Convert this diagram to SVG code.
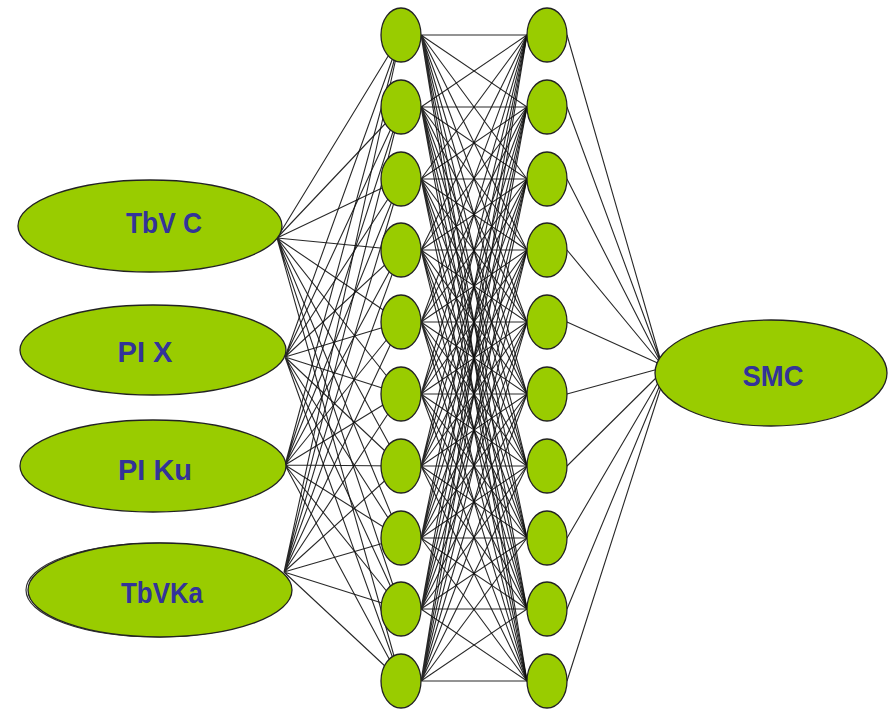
<svg xmlns="http://www.w3.org/2000/svg" width="892" height="710" viewBox="0 0 892 710">
<style>
.n{fill:#99cc00;stroke:#222;stroke-width:1.3}
.c{fill:none;stroke:#111;stroke-width:1.1;stroke-opacity:0.9}
.t{font-family:"Liberation Sans",Arial,sans-serif;font-weight:bold;font-size:30px;fill:#333399;text-anchor:middle}
</style>
<rect width="892" height="710" fill="#ffffff"/>
<g id="connectors" class="c">
<path d="M277 238L401 35M277 238L401 107M277 238L401 179M277 238L401 250M277 238L401 322M277 238L401 394M277 238L401 466M277 238L401 538M277 238L401 609M277 238L401 681"/>
<path d="M285 357L401 35M285 357L401 107M285 357L401 179M285 357L401 250M285 357L401 322M285 357L401 394M285 357L401 466M285 357L401 538M285 357L401 609M285 357L401 681"/>
<path d="M285 465L401 35M285 465L401 107M285 465L401 179M285 465L401 250M285 465L401 322M285 465L401 394M285 465L401 466M285 465L401 538M285 465L401 609M285 465L401 681"/>
<path d="M284 572L401 35M284 572L401 107M284 572L401 179M284 572L401 250M284 572L401 322M284 572L401 394M284 572L401 466M284 572L401 538M284 572L401 609M284 572L401 681"/>
<path d="M421 35L527 35M421 35L527 107M421 35L527 179M421 35L527 250M421 35L527 322M421 35L527 394M421 35L527 466M421 35L527 538M421 35L527 609M421 35L527 681"/>
<path d="M421 107L527 35M421 107L527 107M421 107L527 179M421 107L527 250M421 107L527 322M421 107L527 394M421 107L527 466M421 107L527 538M421 107L527 609M421 107L527 681"/>
<path d="M421 179L527 35M421 179L527 107M421 179L527 179M421 179L527 250M421 179L527 322M421 179L527 394M421 179L527 466M421 179L527 538M421 179L527 609M421 179L527 681"/>
<path d="M421 250L527 35M421 250L527 107M421 250L527 179M421 250L527 250M421 250L527 322M421 250L527 394M421 250L527 466M421 250L527 538M421 250L527 609M421 250L527 681"/>
<path d="M421 322L527 35M421 322L527 107M421 322L527 179M421 322L527 250M421 322L527 322M421 322L527 394M421 322L527 466M421 322L527 538M421 322L527 609M421 322L527 681"/>
<path d="M421 394L527 35M421 394L527 107M421 394L527 179M421 394L527 250M421 394L527 322M421 394L527 394M421 394L527 466M421 394L527 538M421 394L527 609M421 394L527 681"/>
<path d="M421 466L527 35M421 466L527 107M421 466L527 179M421 466L527 250M421 466L527 322M421 466L527 394M421 466L527 466M421 466L527 538M421 466L527 609M421 466L527 681"/>
<path d="M421 538L527 35M421 538L527 107M421 538L527 179M421 538L527 250M421 538L527 322M421 538L527 394M421 538L527 466M421 538L527 538M421 538L527 609M421 538L527 681"/>
<path d="M421 609L527 35M421 609L527 107M421 609L527 179M421 609L527 250M421 609L527 322M421 609L527 394M421 609L527 466M421 609L527 538M421 609L527 609M421 609L527 681"/>
<path d="M421 681L527 35M421 681L527 107M421 681L527 179M421 681L527 250M421 681L527 322M421 681L527 394M421 681L527 466M421 681L527 538M421 681L527 609M421 681L527 681"/>
<path d="M567 35L662 365M567 107L662 365M567 179L662 365M567 250L662 365M567 322L662 365M567 394L662 368M567 466L662 372M567 538L662 376M567 609L662 380M567 681L662 384"/>
</g>
<g id="in-tbvc"><ellipse class="n" cx="150" cy="226" rx="132" ry="46"/><text class="t" x="164" y="233" textLength="76" lengthAdjust="spacingAndGlyphs">TbV C</text></g>
<g id="in-pix"><ellipse class="n" cx="153" cy="350" rx="133" ry="45"/><text class="t" x="145" y="362" textLength="55" lengthAdjust="spacingAndGlyphs">PI X</text></g>
<g id="in-piku"><ellipse class="n" cx="153" cy="466" rx="133" ry="46"/><text class="t" x="155" y="480" textLength="74" lengthAdjust="spacingAndGlyphs">PI Ku</text></g>
<g id="in-tbvka"><ellipse cx="157" cy="590" rx="131" ry="47" fill="none" stroke="#333" stroke-width="1.2"/><ellipse class="n" cx="160" cy="590" rx="132" ry="47"/><text class="t" x="162" y="603" textLength="82" lengthAdjust="spacingAndGlyphs">TbVKa</text></g>
<g id="h1">
<ellipse class="n" cx="401" cy="35" rx="20" ry="27"/><ellipse class="n" cx="401" cy="107" rx="20" ry="27"/><ellipse class="n" cx="401" cy="179" rx="20" ry="27"/><ellipse class="n" cx="401" cy="250" rx="20" ry="27"/><ellipse class="n" cx="401" cy="322" rx="20" ry="27"/><ellipse class="n" cx="401" cy="394" rx="20" ry="27"/><ellipse class="n" cx="401" cy="466" rx="20" ry="27"/><ellipse class="n" cx="401" cy="538" rx="20" ry="27"/><ellipse class="n" cx="401" cy="609" rx="20" ry="27"/><ellipse class="n" cx="401" cy="681" rx="20" ry="27"/>
</g>
<g id="h2">
<ellipse class="n" cx="547" cy="35" rx="20" ry="27"/><ellipse class="n" cx="547" cy="107" rx="20" ry="27"/><ellipse class="n" cx="547" cy="179" rx="20" ry="27"/><ellipse class="n" cx="547" cy="250" rx="20" ry="27"/><ellipse class="n" cx="547" cy="322" rx="20" ry="27"/><ellipse class="n" cx="547" cy="394" rx="20" ry="27"/><ellipse class="n" cx="547" cy="466" rx="20" ry="27"/><ellipse class="n" cx="547" cy="538" rx="20" ry="27"/><ellipse class="n" cx="547" cy="609" rx="20" ry="27"/><ellipse class="n" cx="547" cy="681" rx="20" ry="27"/>
</g>
<g id="out-smc"><ellipse class="n" cx="771" cy="373" rx="116" ry="53"/><text class="t" x="773" y="386" textLength="61" lengthAdjust="spacingAndGlyphs">SMC</text></g>
</svg>
